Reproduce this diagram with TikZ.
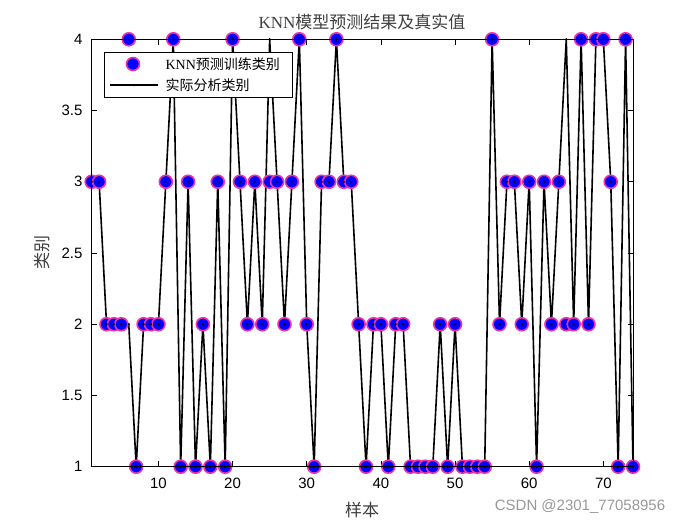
\documentclass[tikz,border=0pt]{standalone}
\usepackage{fontspec}
\setmainfont{Liberation Serif}
\setsansfont{Liberation Sans}
\newfontfamily\cjk{Noto Sans CJK SC}
\begin{document}
\begin{tikzpicture}[x=1pt,y=-1pt,
  mk/.style={circle,fill=blue,draw=magenta!80!white,line width=1.6pt,minimum size=13pt,inner sep=0pt},
  dotm/.style={circle,fill=black,minimum size=2.5pt,inner sep=0pt},
  tick/.style={font=\sffamily\fontsize{15}{15}\selectfont},
  lbl/.style={font=\cjk\fontsize{17}{17}\selectfont,text=black!75}]
\useasboundingbox (0,0) rectangle (700,525);
\fill[white] (0,0) rectangle (700,525);
\coordinate (bl) at (91.7,466.7);
\coordinate (tr) at (633.0,39.3);
% ticks
\foreach \t in {10,20,...,70}{
  \pgfmathsetmacro\px{91.7+(\t-1)*7.415}
  \draw[line width=0.7pt] (\px,466.7) -- (\px,461.2);
  \draw[line width=0.7pt] (\px,39.3) -- (\px,44.8);
  \node[tick] (xt\t) at (\px,483) {\t};
}
\foreach \v/\s in {1/1,1.5/1.5,2/2,2.5/2.5,3/3,3.5/3.5,4/4}{
  \pgfmathsetmacro\py{466.7-(\v-1)*142.47}
  \draw[line width=0.7pt] (91.7,\py) -- (97.2,\py);
  \draw[line width=0.7pt] (633,\py) -- (627.5,\py);
  \node[tick,anchor=east] (yt\s) at (86,\py) {\s};
}
\begin{scope}[shift={(84.285,609.17)},xscale=7.415,yscale=-142.47]
\draw[black,line width=1.6pt,line join=round] plot coordinates {(1,3)(2,3)(3,2)(4,2)(5,2)(6,2)(7,1)(8,2)(9,2)(10,2)(11,3)(12,4)(13,1)(14,3)(15,1)(16,2)(17,1)(18,3)(19,1)(20,4)(21,3)(22,2)(23,3)(24,2)(25,4)(26,3)(27,2)(28,3)(29,4)(30,2)(31,1)(32,3)(33,3)(34,4)(35,3)(36,3)(37,2)(38,1)(39,2)(40,2)(41,1)(42,2)(43,2)(44,1)(45,1)(46,1)(47,1)(48,2)(49,1)(50,2)(51,1)(52,1)(53,1)(54,1)(55,4)(56,2)(57,3)(58,3)(59,2)(60,3)(61,1)(62,3)(63,2)(64,3)(65,4)(66,2)(67,4)(68,2)(69,4)(70,4)(71,3)(72,1)(73,4)(74,1)};
\foreach \v [count=\i] in {3,3,2,2,2,4,1,2,2,2,3,4,1,3,1,2,1,3,1,4,3,2,3,2,3,3,2,3,4,2,1,3,3,4,3,3,2,1,2,2,1,2,2,1,1,1,1,2,1,2,1,1,1,1,4,2,3,3,2,3,1,3,2,3,2,2,4,2,4,4,3,1,4,1}
  \node[mk] (p\i) at (\i,\v) {};
\foreach \v [count=\i] in {3,3,2,2,2,2,1,2,2,2,3,4,1,3,1,2,1,3,1,4,3,2,3,2,4,3,2,3,4,2,1,3,3,4,3,3,2,1,2,2,1,2,2,1,1,1,1,2,1,2,1,1,1,1,4,2,3,3,2,3,1,3,2,3,4,2,4,2,4,4,3,1,4,1}
  \node[dotm] (a\i) at (\i,\v) {};
\end{scope}
\draw[line width=0.8pt] (bl) rectangle (tr);
% legend
\draw[fill=white,line width=0.7pt] (104.3,52.3) rectangle (292.3,97.3);
\node[mk] (lm) at (133,64) {};
\coordinate (l1) at (110,85); \coordinate (l2) at (158,85);
\draw[line width=1.6pt] (l1) -- (l2);
\node[dotm] (ld) at (134,85) {};
\node[anchor=west,font=\fontsize{14}{14}\selectfont] (lt1) at (162,64) {KNN{\cjk 预测训练类别}};
\node[anchor=west,font=\cjk\fontsize{14}{14}\selectfont] (lt2) at (162,85) {实际分析类别};
% labels
\node[font=\fontsize{17}{17}\selectfont,text=black!75] (title) at (362,22) {KNN{\cjk 模型预测结果及真实值}};
\node[lbl] (xl) at (362,510) {样本};
\node[lbl,rotate=90] (yl) at (42,252) {类别};
\node[font=\sffamily\fontsize{15}{15}\selectfont,text=black!40] (wm) at (580,507) {CSDN @2301\_77058956};
\end{tikzpicture}
\end{document}
